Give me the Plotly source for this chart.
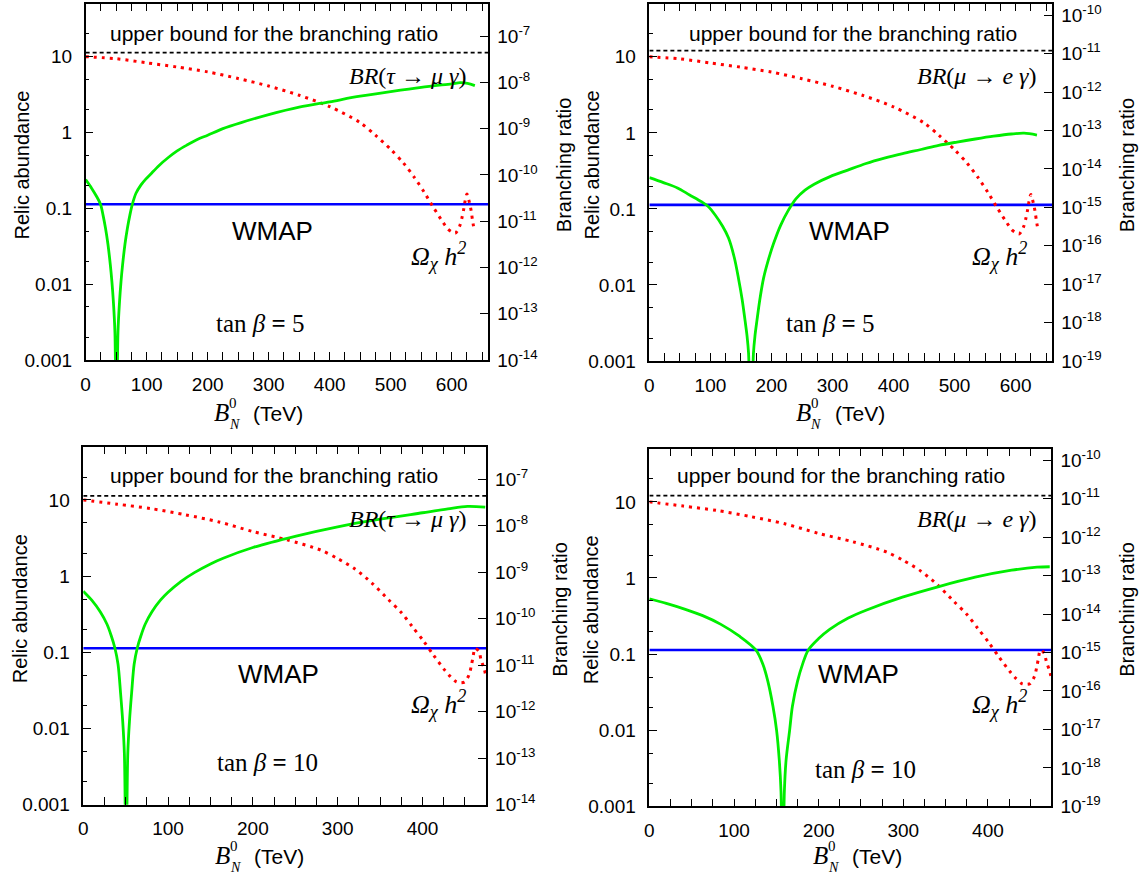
import math
import plotly.graph_objects as go

# ---------------- data ----------------
# relic abundance Omega h^2 (left axis), tan beta = 5
relic_x_tb5 = [0, 50, 100, 150, 200, 250, 300, 350, 400, 450, 475, 500, 521, 539, 555, 570, 586,
               594, 600, 606, 613, 617, 620, 622, 625, 629, 632, 634, 636.5]
relic_y_tb5 = [10, 9.4, 8.3, 7.3, 6.3, 5.15, 4.1, 3.1, 2.2, 1.35, 0.92, 0.60, 0.395, 0.255, 0.163,
               0.103, 0.065, 0.053, 0.049, 0.047, 0.058, 0.076, 0.10, 0.125, 0.155, 0.12, 0.092,
               0.071, 0.054]
# relic abundance, tan beta = 10
relic_x_tb10 = [0, 40, 80, 120, 160, 200, 240, 280, 300, 320, 340, 360, 375, 388, 401, 413, 426,
                433, 440, 445, 450, 455, 457.5, 459.5, 462, 466.5, 469, 472.5, 475]
relic_y_tb10 = [10, 8.8, 7.7, 6.4, 5.15, 3.85, 3.0, 2.2, 1.7, 1.25, 0.82, 0.49, 0.333, 0.218,
                0.142, 0.092, 0.059, 0.048, 0.041, 0.040, 0.041, 0.051, 0.066, 0.086, 0.113,
                0.103, 0.080, 0.062, 0.048]

# BR(tau -> mu gamma), tan beta = 5
br_tau5_x = [0, 10, 18, 24.5, 28.5, 32.5, 36.5, 40.5, 43, 45.5, 48, 50.5, 53, 55.5, 58, 60.5,
             64.5, 68.5, 72.5, 76.5, 82.5, 90.5, 98.5, 106, 120, 136, 150, 166, 183, 200, 225,
             255, 300, 350, 400, 450, 500, 550, 600, 614, 626, 638]
br_tau5_y = [7.9e-11, 5.1e-11, 3.4e-11, 2.3e-11, 1.35e-11, 7.1e-12, 3.2e-12, 1.12e-12, 5.0e-13,
             1.78e-13, 4.0e-14, 1e-16, 4.0e-14, 1.78e-13, 5.0e-13, 1.12e-12, 3.2e-12, 7.1e-12,
             1.35e-11, 2.3e-11, 4.0e-11, 6.0e-11, 8.1e-11, 1.02e-10, 1.58e-10, 2.4e-10, 3.3e-10,
             4.4e-10, 5.8e-10, 7.2e-10, 1.0e-9, 1.35e-9, 2.0e-9, 2.9e-9, 3.8e-9, 5.0e-9, 6.3e-9,
             7.8e-9, 9.3e-9, 9.8e-9, 9.5e-9, 8.5e-9]
# BR(mu -> e gamma), tan beta = 5
br_mu5_x = [0, 23, 46, 66, 86, 96.4, 107.8, 120, 129.7, 139, 146, 152, 156.8, 160, 162.5, 166.5,
            170.5, 173, 176.2, 181, 187, 194, 203.3, 215, 227.6, 240, 255, 270, 296, 325, 355,
            385, 415, 445, 474, 504, 534, 564, 593, 614, 635]
br_mu5_y = [5.9e-15, 4.4e-15, 3.2e-15, 2.1e-15, 1.38e-15, 1.05e-15, 6.3e-16, 3.2e-16, 1.58e-16,
            5.0e-17, 1.41e-17, 4.0e-18, 1.12e-18, 4.5e-19, 1.6e-19, 1e-21, 1.6e-19, 4.5e-19,
            1.12e-18, 4.0e-18, 1.41e-17, 3.8e-17, 1.12e-16, 3.4e-16, 8.3e-16, 1.66e-15, 2.8e-15,
            4.0e-15, 6.3e-15, 9.3e-15, 1.38e-14, 1.9e-14, 2.5e-14, 3.2e-14, 4.1e-14, 5.0e-14,
            6.0e-14, 7.1e-14, 8.1e-14, 8.5e-14, 7.6e-14]
# BR(tau -> mu gamma), tan beta = 10
br_tau10_x = [0, 10, 20, 28, 33, 37.3, 41, 44, 46.5, 48.5, 50.5, 52.5, 54.5, 57, 60, 63.7, 68,
              73, 81, 91, 100, 115, 131, 150, 165, 200, 251, 300, 350, 400, 430, 453, 474]
br_tau10_y = [3.9e-10, 2.5e-10, 1.41e-10, 7.6e-11, 4.3e-11, 2.35e-11, 1.05e-11, 2.5e-12,
              6.3e-13, 1.26e-13, 3.2e-16, 1.26e-13, 6.3e-13, 2.5e-12, 1.05e-11, 2.35e-11,
              4.3e-11, 7.6e-11, 1.41e-10, 2.5e-10, 3.7e-10, 6.3e-10, 9.8e-10, 1.51e-9, 2.0e-9,
              3.4e-9, 6.0e-9, 9.5e-9, 1.38e-8, 1.9e-8, 2.3e-8, 2.6e-8, 2.5e-8]
# BR(mu -> e gamma), tan beta = 10
br_mu10_x = [0, 20, 41.6, 63, 84.5, 106, 126, 134, 140, 146, 150.3, 153.5, 155.5, 157.5, 159.5,
             161.5, 165.7, 169, 175, 181, 187.6, 200, 213, 235, 256, 299, 342, 385, 428, 458, 473]
br_mu10_y = [2.5e-14, 1.9e-14, 1.35e-14, 9.1e-15, 5.4e-15, 2.7e-15, 1.15e-15, 5.0e-16, 1.78e-16,
             4.0e-17, 9.5e-18, 1.58e-18, 2.5e-19, 1e-21, 2.5e-19, 1.58e-18, 9.5e-18, 4.0e-17,
             1.78e-16, 5.0e-16, 1.15e-15, 2.3e-15, 4.0e-15, 7.9e-15, 1.26e-14, 2.75e-14, 5.2e-14,
             9.1e-14, 1.38e-13, 1.66e-13, 1.7e-13]

wmap_value = 0.113
bound_tau = 4.4e-8
bound_mu = 1.2e-11

left_tick_vals = [0.001, 0.01, 0.1, 1, 10]
left_tick_text = ["0.001", "0.01", "0.1", "1", "10"]
left_minor_vals = [0.002, 0.005, 0.02, 0.05, 0.2, 0.5, 2, 5, 20]
right_exps_tau = [-14, -13, -12, -11, -10, -9, -8, -7]
right_exps_mu = [-19, -18, -17, -16, -15, -14, -13, -12, -11, -10]

# ---------------- layout helpers ----------------
W, H = 1146, 888
SANS = "Liberation Sans"
SERIF = "Liberation Serif"

GEOM = [
    dict(l=81, r=485.4, t=1.7, b=363.3),
    dict(l=647.2, r=1051.8, t=1.7, b=364.3),
    dict(l=78.6, r=483.2, t=451.3, b=814.7),
    dict(l=647.2, r=1051.0, t=453.3, b=816.3),
]

PANELS = [
    dict(xmax=660, relic=(relic_x_tb5, relic_y_tb5), br=(br_tau5_x, br_tau5_y), bound=bound_tau,
         rlo=1e-14, rhi=5e-7, rexps=right_exps_tau,
         brtext="<i>BR</i>(<i>τ</i> → <i>μ γ</i>)", tantext="tan <i>β</i> <b>=</b> 5",
         pos=dict(upper=(270.5, 32), br=(404.5, 75), wmap=(269, 232.3), omega=(435, 258),
                  tan=(257, 326.7), B=(217.5, 416.7), relic=(17, 165), branch=(561, 165))),
    dict(xmax=660, relic=(relic_x_tb5, relic_y_tb5), br=(br_mu5_x, br_mu5_y), bound=bound_mu,
         rlo=1e-19, rhi=2e-10, rexps=right_exps_mu,
         brtext="<i>BR</i>(<i>μ</i> → <i>e γ</i>)", tantext="tan <i>β</i> <b>=</b> 5",
         pos=dict(upper=(852, 32), br=(976, 75), wmap=(847.7, 232.3), omega=(998.7, 258),
                  tan=(828.8, 326.7), B=(801.5, 416.7), relic=(589.4, 165), branch=(1126.7, 165))),
    dict(xmax=475, relic=(relic_x_tb10, relic_y_tb10), br=(br_tau10_x, br_tau10_y), bound=bound_tau,
         rlo=1e-14, rhi=5e-7, rexps=right_exps_tau,
         brtext="<i>BR</i>(<i>τ</i> → <i>μ γ</i>)", tantext="tan <i>β</i> <b>=</b> 10",
         pos=dict(upper=(270, 481), br=(404, 524.7), wmap=(275, 681.7), omega=(435, 712.3),
                  tan=(264, 772.3), B=(218.5, 866.3), relic=(14.6, 615.7), branch=(557.4, 615.7))),
    dict(xmax=475, relic=(relic_x_tb10, relic_y_tb10), br=(br_mu10_x, br_mu10_y), bound=bound_mu,
         rlo=1e-19, rhi=2e-10, rexps=right_exps_mu,
         brtext="<i>BR</i>(<i>μ</i> → <i>e γ</i>)", tantext="tan <i>β</i> <b>=</b> 10",
         pos=dict(upper=(839.8, 481), br=(976, 524.7), wmap=(856.8, 681.7), omega=(998.7, 712.3),
                  tan=(864, 779), B=(819, 866.3), relic=(589.4, 616.5), branch=(1126.7, 616))),
]


def ann(text, xy, size, family=SANS, angle=0):
    return dict(text=text, x=xy[0] / W, y=1 - xy[1] / H, xref="paper", yref="paper",
                xanchor="center", yanchor="middle", showarrow=False, textangle=angle,
                font=dict(family=family, size=size, color="black"))


fig = go.Figure()
layout = dict(width=W, height=H, margin=dict(l=0, r=0, t=0, b=0), showlegend=False,
              paper_bgcolor="white", plot_bgcolor="white",
              font=dict(family=SANS, size=19, color="black"))
annotations = []

for i, (geo, sp) in enumerate(zip(GEOM, PANELS)):
    xn, yl, yr = i + 1, 2 * i + 1, 2 * i + 2
    xkey = "xaxis" if xn == 1 else f"xaxis{xn}"
    ylkey = "yaxis" if yl == 1 else f"yaxis{yl}"
    yrkey = f"yaxis{yr}"
    xref = "x" if xn == 1 else f"x{xn}"
    ylref = "y" if yl == 1 else f"y{yl}"
    yrref = f"y{yr}"

    layout[xkey] = dict(domain=[geo["l"] / W, geo["r"] / W], range=[0, sp["xmax"]], anchor=ylref,
                        showline=True, linecolor="black", linewidth=1.5, mirror="allticks",
                        ticks="inside", ticklen=8, tickwidth=1.2, tickcolor="black",
                        tickmode="linear", tick0=0, dtick=100,
                        tickfont=dict(family=SANS, size=19, color="black"), ticklabelstandoff=6,
                        minor=dict(ticks="inside", ticklen=4, tickwidth=1, tickcolor="black",
                                   tickmode="linear", tick0=0, dtick=25, showgrid=False),
                        showgrid=False, zeroline=False)
    layout[ylkey] = dict(domain=[1 - geo["b"] / H, 1 - geo["t"] / H], type="log",
                         range=[math.log10(0.001), math.log10(50)], anchor=xref,
                         showline=True, linecolor="black", linewidth=1.5, mirror=True,
                         ticks="inside", ticklen=8, tickwidth=1.2, tickcolor="black",
                         tickmode="array", tickvals=left_tick_vals, ticktext=left_tick_text,
                         tickfont=dict(family=SANS, size=19, color="black"), ticklabelstandoff=8,
                         minor=dict(ticks="inside", ticklen=4, tickwidth=1, tickcolor="black",
                                    tickmode="array", tickvals=left_minor_vals, showgrid=False),
                         showgrid=False, zeroline=False)
    layout[yrkey] = dict(type="log", overlaying=ylref, side="right", anchor=xref,
                         range=[math.log10(sp["rlo"]), math.log10(sp["rhi"])],
                         showline=False, ticks="inside", ticklen=8, tickwidth=1.2,
                         tickcolor="black", tickmode="array",
                         tickvals=[10.0 ** e for e in sp["rexps"]],
                         ticktext=[f"10<sup>{e}</sup>" for e in sp["rexps"]],
                         tickfont=dict(family=SANS, size=19, color="black"), ticklabelstandoff=8,
                         showgrid=False, zeroline=False)

    xr = [0, sp["xmax"]]
    fig.add_trace(go.Scatter(x=xr, y=[wmap_value, wmap_value], xaxis=xref, yaxis=ylref,
                             mode="lines", line=dict(color="#0000ff", width=2.6),
                             hoverinfo="skip"))
    fig.add_trace(go.Scatter(x=xr, y=[sp["bound"], sp["bound"]], xaxis=xref, yaxis=yrref,
                             mode="lines", line=dict(color="black", width=1.8, dash="4px,3px"),
                             hoverinfo="skip"))
    fig.add_trace(go.Scatter(x=sp["relic"][0], y=sp["relic"][1], xaxis=xref, yaxis=ylref,
                             mode="lines", line=dict(color="#ff0000", width=3, dash="3px,5px",
                                                     shape="spline", smoothing=0.8)))
    fig.add_trace(go.Scatter(x=sp["br"][0], y=sp["br"][1], xaxis=xref, yaxis=yrref,
                             mode="lines", line=dict(color="#00ee00", width=2.8,
                                                     shape="spline", smoothing=0.9)))

    p = sp["pos"]
    annotations.append(ann("upper bound for the branching ratio", p["upper"], 21))
    annotations.append(ann(sp["brtext"], p["br"], 24, SERIF))
    annotations.append(ann("WMAP", p["wmap"], 26))
    annotations.append(ann("<i>Ω<sub>χ</sub> h<sup>2</sup></i>", p["omega"], 26, SERIF))
    annotations.append(ann(sp["tantext"], p["tan"], 25, SERIF))
    bx, by = p["B"]
    annotations.append(ann("<i>B</i>", (bx, by), 25, SERIF))
    annotations.append(ann("0", (bx + 12, by - 10), 15, SERIF))
    annotations.append(ann("<i>N</i>", (bx + 13, by + 12), 14, SERIF))
    annotations.append(ann("(TeV)", (bx + 57, by + 1), 21))
    annotations.append(ann("Relic abundance", p["relic"], 20, SANS, -90))
    annotations.append(ann("Branching ratio", p["branch"], 20, SANS, -90))

layout["annotations"] = annotations
fig.update_layout(**layout)

fig.write_html("out.html", config={"displayModeBar": False},
               post_script="document.body.style.margin='0';")
